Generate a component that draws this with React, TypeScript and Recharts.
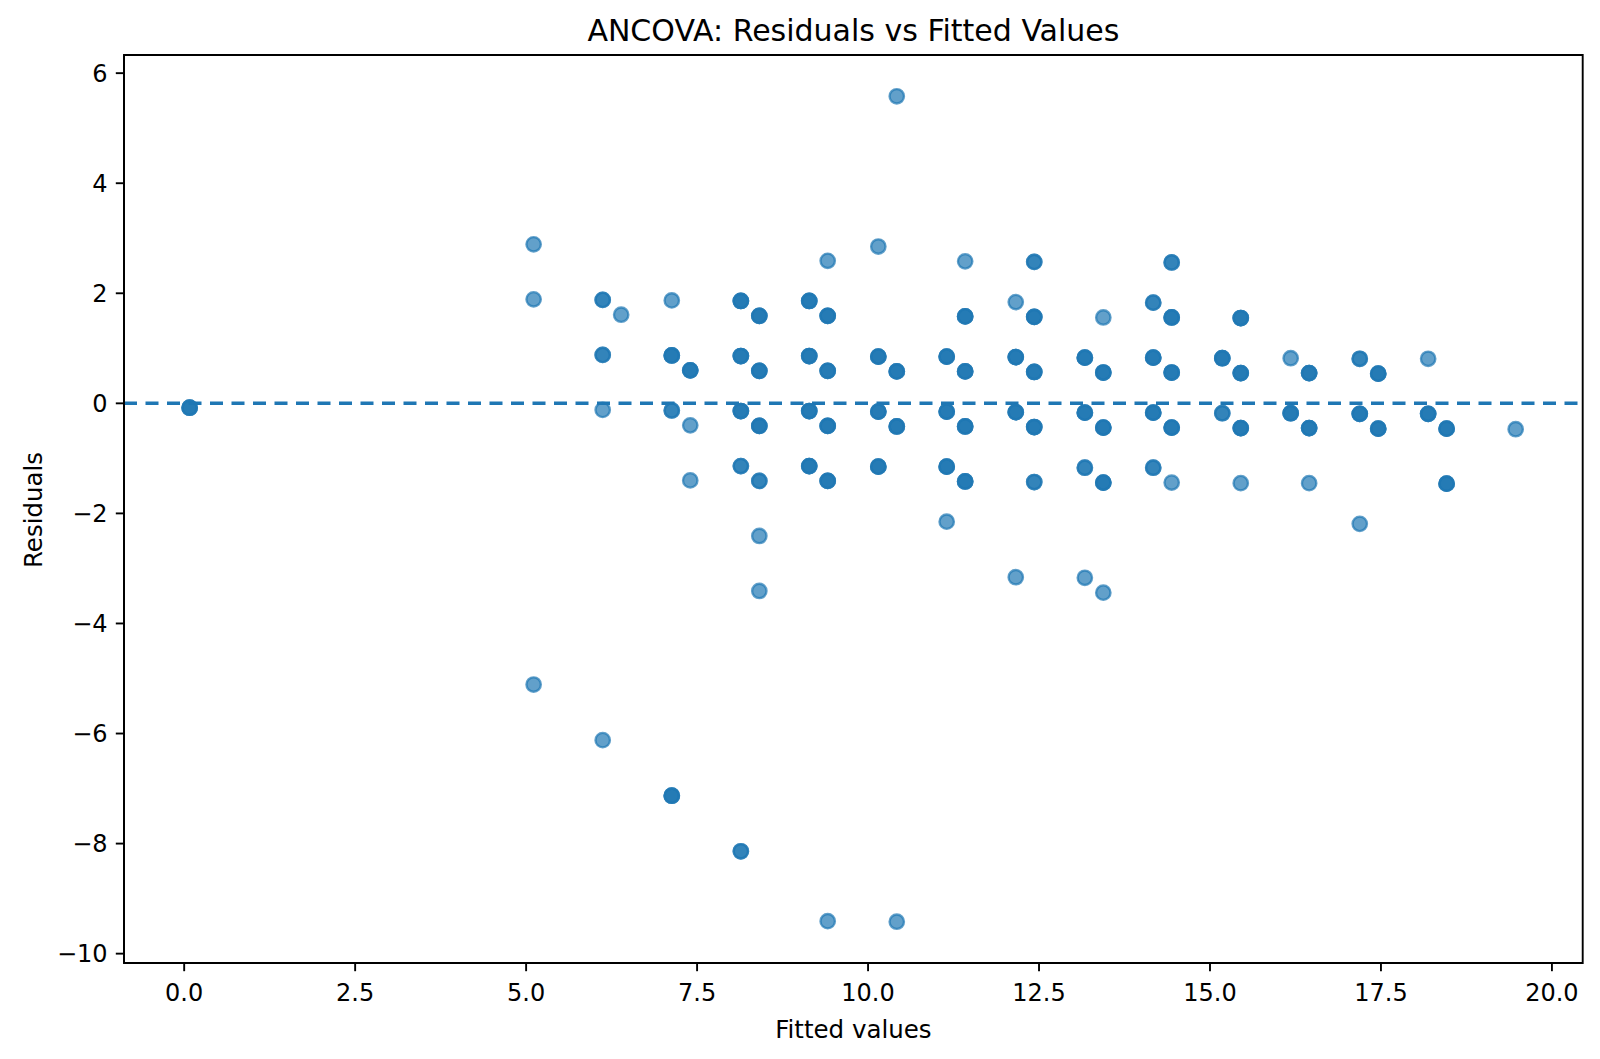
import React from "react";
import {
  ScatterChart,
  Scatter,
  XAxis,
  YAxis,
  ReferenceLine,
  ReferenceArea,
} from "recharts";

// fitted value, residual and how many observations sit on the same spot
const fitted = [
  0.08, 5.11, 5.11, 5.11, 6.12, 6.12, 6.12, 6.12, 6.39,
  7.13, 7.13, 7.13, 7.13, 7.4, 7.4, 7.4,
  8.14, 8.14, 8.14, 8.14, 8.14, 8.41, 8.41, 8.41, 8.41, 8.41, 8.41,
  9.14, 9.14, 9.14, 9.14, 9.41, 9.41, 9.41, 9.41, 9.41, 9.41,
  10.15, 10.15, 10.15, 10.15, 10.42, 10.42, 10.42, 10.42,
  11.15, 11.15, 11.15, 11.15, 11.42, 11.42, 11.42, 11.42, 11.42,
  12.16, 12.16, 12.16, 12.16, 12.43, 12.43, 12.43, 12.43, 12.43,
  13.17, 13.17, 13.17, 13.17, 13.44, 13.44, 13.44, 13.44, 13.44,
  14.17, 14.17, 14.17, 14.17, 14.44, 14.44, 14.44, 14.44, 14.44,
  15.18, 15.18, 15.45, 15.45, 15.45, 15.45,
  16.18, 16.18, 16.45, 16.45, 16.45,
  17.19, 17.19, 17.19, 17.46, 17.46,
  18.19, 18.19, 18.46, 18.46, 19.47,
];

const residuals = [
  -0.08, 2.89, 1.89, -5.11, 1.88, 0.88, -0.12, -6.12, 1.61,
  1.87, 0.87, -0.13, -7.13, 0.6, -0.4, -1.4,
  1.86, 0.86, -0.14, -1.14, -8.14, 1.59, 0.59, -0.41, -1.41, -2.41, -3.41,
  1.86, 0.86, -0.14, -1.14, 2.59, 1.59, 0.59, -0.41, -1.41, -9.41,
  2.85, 0.85, -0.15, -1.15, 5.58, 0.58, -0.42, -9.42,
  0.85, -0.15, -1.15, -2.15, 2.58, 1.58, 0.58, -0.42, -1.42,
  1.84, 0.84, -0.16, -3.16, 2.57, 1.57, 0.57, -0.43, -1.43,
  0.83, -0.17, -1.17, -3.17, 1.56, 0.56, -0.44, -1.44, -3.44,
  1.83, 0.83, -0.17, -1.17, 2.56, 1.56, 0.56, -0.44, -1.44,
  0.82, -0.18, 1.55, 0.55, -0.45, -1.45,
  0.82, -0.18, 0.55, -0.45, -1.45,
  0.81, -0.19, -2.19, 0.54, -0.46,
  0.81, -0.19, -0.46, -1.46, -0.47,
];

const overlap = [
  3, 1, 1, 1, 2, 2, 1, 1, 1,
  1, 3, 2, 3, 3, 1, 1,
  3, 3, 3, 2, 2, 3, 3, 3, 2, 1, 1,
  3, 3, 3, 3, 1, 3, 3, 3, 3, 1,
  1, 3, 3, 3, 1, 3, 3, 1,
  3, 3, 3, 1, 1, 3, 3, 3, 3,
  1, 3, 3, 1, 2, 3, 3, 3, 2,
  3, 3, 2, 1, 1, 3, 3, 3, 1,
  2, 3, 3, 2, 2, 3, 3, 3, 1,
  3, 2, 3, 3, 3, 1,
  1, 3, 3, 3, 1,
  2, 3, 1, 3, 3,
  1, 3, 3, 3, 1,
];

const xTicks = [0, 2.5, 5, 7.5, 10, 12.5, 15, 17.5, 20];
const yTicks = [-10, -8, -6, -4, -2, 0, 2, 4, 6];
const xDomain = [-0.88, 20.45];
const yDomain = [-10.17, 6.33];

const BLUE = "#1f77b4";
const FONT = "DejaVu Sans, Verdana, sans-serif";

const points: { x: number; y: number }[] = [];
fitted.forEach((f, i) => {
  for (let k = 0; k < overlap[i]; k++) points.push({ x: f, y: residuals[i] });
});

const fmtY = (v: number) => (v < 0 ? "\u2212" + Math.abs(v) : String(v));

const Dot = (props: any) => (
  <circle
    cx={props.cx}
    cy={props.cy}
    r={7.2}
    fill={BLUE}
    fillOpacity={0.7}
    stroke={BLUE}
    strokeOpacity={0.7}
    strokeWidth={2.35}
  />
);

const tickStyle = { fontSize: 24, fill: "#000", fontFamily: FONT };
const lineStyle = { stroke: "#000", strokeWidth: 1.9 };

export default function App() {
  return (
    <div style={{ position: "absolute", left: 0, top: 0, width: 1600, height: 1059, background: "#fff" }}>
      <ScatterChart
        width={1600}
        height={1059}
        margin={{ top: 55, right: 17.3, bottom: 36, left: 14 }}
      >
        <XAxis
          type="number"
          dataKey="x"
          domain={xDomain}
          ticks={xTicks}
          allowDataOverflow
          height={60}
          tick={tickStyle}
          tickFormatter={(v: number) => v.toFixed(1)}
          tickSize={8.2}
          tickMargin={13}
          axisLine={lineStyle}
          tickLine={lineStyle}
        />
        <YAxis
          type="number"
          dataKey="y"
          domain={yDomain}
          ticks={yTicks}
          allowDataOverflow
          width={110}
          tick={tickStyle}
          tickFormatter={fmtY}
          tickSize={8.2}
          tickMargin={8.2}
          axisLine={lineStyle}
          tickLine={lineStyle}
        />
        <Scatter data={points} shape={Dot} isAnimationActive={false} />
        <ReferenceLine y={0} stroke={BLUE} strokeWidth={3.5} strokeDasharray="13 8.5" />
        <ReferenceArea
          x1={xDomain[0]}
          x2={xDomain[1]}
          y1={yDomain[0]}
          y2={yDomain[1]}
          fill="none"
          fillOpacity={0}
          stroke="#000"
          strokeWidth={1.9}
        />
      </ScatterChart>
      <svg
        width={1600}
        height={1059}
        style={{ position: "absolute", left: 0, top: 0, pointerEvents: "none" }}
        fontFamily={FONT}
      >
        <text x={853.4} y={41} textAnchor="middle" fontSize={30} fill="#000">
          ANCOVA: Residuals vs Fitted Values
        </text>
        <text x={853.4} y={1038} textAnchor="middle" fontSize={24.5} fill="#000">
          Fitted values
        </text>
        <text
          transform="translate(41.7,510) rotate(-90)"
          textAnchor="middle"
          fontSize={24.5}
          fill="#000"
        >
          Residuals
        </text>
      </svg>
    </div>
  );
}
